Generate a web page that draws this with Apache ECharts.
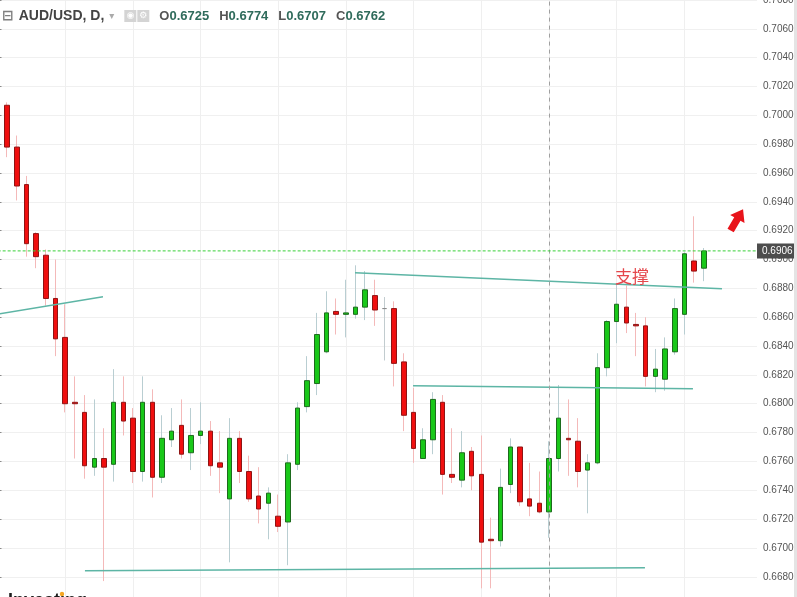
<!DOCTYPE html>
<html><head><meta charset="utf-8">
<script src="https://cdn.jsdelivr.net/npm/echarts@6/dist/echarts.min.js"></script>
<style>html,body{margin:0;padding:0;background:#fff}#c{width:797px;height:597px}</style>
</head><body><div id="c"></div>
<script>
// ---- data ----
const categories = Array.from({length: 79}, (_, i) => 'D' + i);
const opens  = [0.7036,0.7007,0.6978,0.6952,0.6918,0.6903,0.6873,0.6846,0.6801,0.6794,
                0.6756,0.6762,0.6758,0.6801,0.6790,0.6753,0.6801,0.6749,0.6775,0.6785,
                0.6766,0.6778,0.6781,0.6759,0.6734,0.6776,0.6753,0.6736,0.6731,0.6722,
                0.6718,0.6758,0.6798,0.6814,0.6836,0.6864,0.6862,0.6862,0.6867,0.6875,
                0.6866,0.6866,0.6829,0.6794,0.6762,0.6775,0.6801,0.6751,0.6747,0.6767,
                0.6751,0.6706,0.6705,0.6744,0.6770,0.6734,0.6731,0.6725,0.6762,0.6776,
                0.6774,0.6754,0.6759,0.6825,0.6857,0.6867,0.6855,0.6854,0.6819,0.6817,
                0.6836,0.6862,0.6899,0.6894];
const closes = [0.7006,0.6978,0.6951,0.6911,0.6902,0.6873,0.6845,0.6800,0.6800,0.6757,
                0.6762,0.6756,0.6801,0.6788,0.6753,0.6801,0.6749,0.6776,0.6781,0.6765,
                0.6778,0.6781,0.6757,0.6756,0.6776,0.6753,0.6734,0.6727,0.6738,0.6715,
                0.6759,0.6797,0.6816,0.6848,0.6863,0.6862,0.6863,0.6867,0.6879,0.6865,
                0.6866,0.6828,0.6792,0.6769,0.6775,0.6803,0.6751,0.6749,0.6766,0.6750,
                0.6704,0.6705,0.6742,0.6770,0.6732,0.6729,0.6725,0.6762,0.6790,0.6775,
                0.6753,0.6759,0.6825,0.6857,0.6869,0.6856,0.6854,0.6819,0.6824,0.6838,
                0.6866,0.6904,0.6892,0.6906];
const lows   = [0.7002,0.6971,0.6941,0.6902,0.6894,0.6868,0.6833,0.6794,0.6762,0.6748,
                0.6750,0.6677,0.6746,0.6778,0.6745,0.6746,0.6735,0.6745,0.6770,0.6762,
                0.6754,0.6772,0.6750,0.6738,0.6690,0.6745,0.6732,0.6717,0.6706,0.6711,
                0.6688,0.6754,0.6794,0.6806,0.6835,0.6848,0.6846,0.6859,0.6858,0.6854,
                0.6830,0.6812,0.6781,0.6759,0.6762,0.6765,0.6737,0.6745,0.6742,0.6740,
                0.6672,0.6672,0.6701,0.6738,0.6729,0.6722,0.6724,0.6707,0.6753,0.6750,
                0.6742,0.6724,0.6758,0.6819,0.6842,0.6849,0.6833,0.6812,0.6808,0.6809,
                0.6834,0.6848,0.6884,0.6885];
const highs  = [0.7042,0.7009,0.6986,0.6958,0.6919,0.6907,0.6900,0.6869,0.6819,0.6806,
                0.6803,0.6783,0.6824,0.6819,0.6797,0.6819,0.6810,0.6792,0.6797,0.6803,
                0.6797,0.6801,0.6788,0.6781,0.6790,0.6781,0.6764,0.6756,0.6742,0.6737,
                0.6765,0.6801,0.6833,0.6863,0.6878,0.6873,0.6886,0.6896,0.6892,0.6886,
                0.6874,0.6871,0.6835,0.6811,0.6783,0.6808,0.6806,0.6783,0.6781,0.6770,
                0.6778,0.6721,0.6755,0.6776,0.6770,0.6759,0.6753,0.6774,0.6813,0.6803,
                0.6790,0.6765,0.6835,0.6858,0.6883,0.6882,0.6863,0.6860,0.6838,0.6846,
                0.6873,0.6905,0.6930,0.6908];
const yTickMin = 0.666, yTickMax = 0.708, yTickStep = 0.002;
// trend lines drawn on the chart, [barIndex, price]
const trendLines = [
  [[-0.5, 0.68616], [10.90, 0.68742]],
  [[36.95, 0.68908], [74.88, 0.68797]],
  [[42.95, 0.68125], [71.88, 0.68104]],
  [[9.04, 0.66842], [66.92, 0.66862]]
];
const gridLineIdx = [7, 14, 21, 29, 36, 43, 50, 57, 64, 71];
const hoverIdx = 57;
const lastPrice = 0.6906;
const noteText = '支撑';
const notePos = [65.58, 0.6888];
const arrowPos = [76.33, 0.69269];
const symbolName = 'AUD/USD, D,';

// ---- build ----
const wickData = opens.map((o, i) => [o, closes[i], lows[i], highs[i]]);
const bodyData = opens.map((o, i) => [o, closes[i], Math.min(o, closes[i]), Math.max(o, closes[i])]);
const f4 = v => v.toFixed(4);
const hdr = `{box|⊟} {sym|${symbolName}} {tri|▾}  {ic|◉}{gap| }{ic|⚙}  {k|O}{v|${f4(opens[hoverIdx])}}  {k|H}{v|${f4(highs[hoverIdx])}}  {k|L}{v|${f4(lows[hoverIdx])}}  {k|C}{v|${f4(closes[hoverIdx])}}`;
const xEnd = categories.length - 0.5;

const chart = echarts.init(document.getElementById('c'), null, {renderer: 'canvas'});
const trendSeries = trendLines.map((seg, k) => {
  const s = {
    type: 'line', xAxisIndex: 1, data: seg, symbol: 'none', silent: true, z: 3,
    lineStyle: {color: '#5db5a5', width: 1.5}
  };
  if (k === 0) {
    s.markLine = {
      symbol: 'none', silent: true, z: 0, animation: false, label: {show: false},
      lineStyle: {color: '#efefef', type: 'solid', width: 1},
      data: gridLineIdx.map(i => ({xAxis: i}))
    };
  }
  if (k === 1) {
    s.markLine = {
      symbol: 'none', silent: true, z: 6, animation: false, label: {show: false},
      lineStyle: {color: '#a0a0a0', type: [4, 4], width: 1},
      data: [{xAxis: hoverIdx}]
    };
    s.markPoint = {
      silent: true, animation: false,
      data: [
        {coord: notePos, symbol: 'rect', symbolSize: 1, itemStyle: {color: 'rgba(0,0,0,0)'},
         label: {show: true, position: 'inside', formatter: noteText, color: '#e5474c', fontSize: 17,
                 fontFamily: 'Noto Sans CJK SC'}},
        {coord: arrowPos, symbol: 'path://M15.5,0.5 L16.9,14 L13,11.8 L6.5,23 L0.5,19.5 L7,8.3 L3.1,6 Z',
         symbolSize: [17, 23], itemStyle: {color: '#e8141b'}, label: {show: false}}
      ]
    };
  }
  return s;
});

chart.setOption({
  animation: false,
  backgroundColor: '#ffffff',
  title: {
    left: 2, top: 7, padding: 0,
    text: hdr,
    textStyle: {
      fontFamily: 'Liberation Sans, Arial, sans-serif',
      rich: {
        box: {fontSize: 14, color: '#808080', fontFamily: 'DejaVu Sans'},
        sym: {fontSize: 14, color: '#444', fontWeight: 'bold'},
        tri: {fontSize: 10, color: '#aaa', fontFamily: 'DejaVu Sans'},
        ic: {fontSize: 9, color: '#fff', backgroundColor: '#d4d4d4', width: 12, height: 12, align: 'center', lineHeight: 12, fontFamily: 'DejaVu Sans'},
        gap: {fontSize: 2, width: 1},
        k: {fontSize: 13, color: '#555'},
        v: {fontSize: 13, color: '#2f6b5b'}
      }
    }
  },
  grid: {left: -7.33, right: 40, top: 0, bottom: -8.6, containLabel: false, outerBoundsMode: 'none'},
  xAxis: [
    {type: 'category', data: categories, boundaryGap: true, show: false},
    {type: 'value', min: -0.5, max: xEnd, show: false}
  ],
  yAxis: {
    type: 'value', position: 'right', min: yTickMin, max: yTickMax, interval: yTickStep,
    axisLine: {show: true, lineStyle: {color: '#8a8a8a'}},
    axisTick: {show: true, length: 4, lineStyle: {color: '#8a8a8a'}},
    axisLabel: {color: '#555', fontSize: 10, margin: 6, formatter: v => v.toFixed(4),
                fontFamily: 'Liberation Sans, Arial, sans-serif'},
    splitLine: {show: true, lineStyle: {color: '#f0f0f0'}}
  },
  graphic: [
    {type: 'rect', right: 0, top: 0, shape: {width: 3, height: 597}, style: {fill: '#e4e4e4'}, z: 100},
    {type: 'text', left: 8, top: 592, style: {text: 'Investing', fontSize: 18, fontWeight: 'bold', fill: '#1b1b1b', fontFamily: 'Liberation Sans'}, z: 100},
    {type: 'circle', shape: {cx: 62, cy: 594, r: 2.2}, style: {fill: '#f5a623'}, z: 101}
  ],
  series: [
    ...trendSeries,
    {
      type: 'candlestick', name: 'wick', data: wickData, barWidth: 1, silent: true, z: 2,
      itemStyle: {color: '#b9ced2', color0: '#f4b9b9', borderColor: '#b9ced2', borderColor0: '#f4b9b9',
                  borderColorDoji: '#c2cccf', borderWidth: 1}
    },
    {
      type: 'candlestick', name: 'AUD/USD', data: bodyData, barWidth: 5, silent: true, z: 2,
      itemStyle: {color: '#19c819', color0: '#f00f0f', borderColor: '#1d6b1d', borderColor0: '#8f1414',
                  borderColorDoji: '#8c8c8c', borderWidth: 1}
    },
    {
      type: 'line', name: 'price', xAxisIndex: 1, silent: true, z: 6, symbol: 'none',
      data: [[-0.5, lastPrice], [xEnd, lastPrice]],
      lineStyle: {color: '#38d038', type: [3, 2], width: 1},
      endLabel: {show: true, formatter: () => f4(lastPrice), color: '#fff', backgroundColor: '#4d4d4d',
                 padding: [3, 5, 2, 5], fontSize: 10, distance: 0,
                 fontFamily: 'Liberation Sans, Arial, sans-serif'}
    }
  ]
});
</script></body></html>
